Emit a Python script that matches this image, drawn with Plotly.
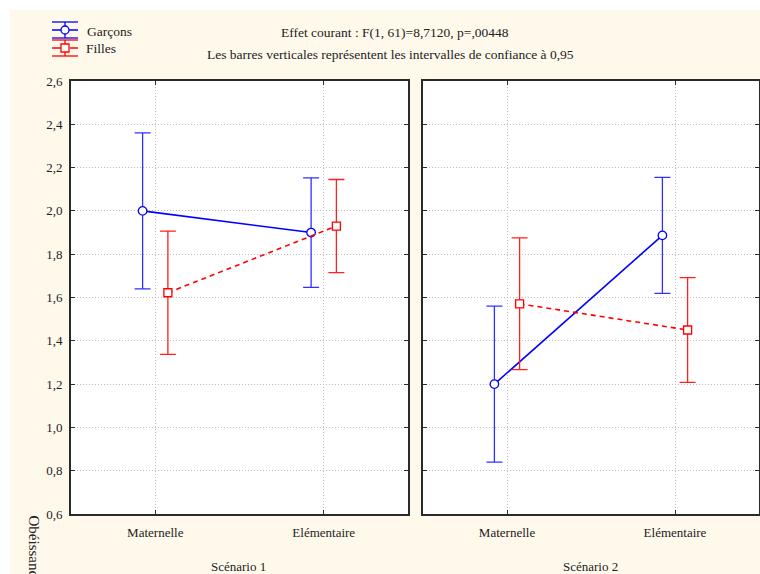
import plotly.graph_objects as go

# ---------------- data ----------------
categories = ["Maternelle", "Elémentaire"]
scenarios = ["Scénario 1", "Scénario 2"]
series_names = ["Garçons", "Filles"]

garcons_s1 = [2.000, 1.900]
garcons_s1_ci = [0.360, 0.253]
filles_s1 = [1.622, 1.930]
filles_s1_ci = [0.285, 0.215]

garcons_s2 = [1.200, 1.887]
garcons_s2_ci = [0.360, 0.268]
filles_s2 = [1.571, 1.450]
filles_s2_ci = [0.304, 0.242]

y_ticks = [0.6, 0.8, 1.0, 1.2, 1.4, 1.6, 1.8, 2.0, 2.2, 2.4, 2.6]
y_ticktext = ["0,6", "0,8", "1,0", "1,2", "1,4", "1,6", "1,8", "2,0", "2,2", "2,4", "2,6"]

title_line1 = "Effet courant : F(1, 61)=8,7120, p=,00448"
title_line2 = "Les barres verticales représentent les intervalles de confiance à 0,95"
y_title = "Obéissance"

# ---------------- style ----------------
W, H = 760, 574
FONT = "Liberation Serif"
BLUE = "#0000FF"
RED = "#FF0000"
CREAM = "#FFF9EC"
OFFSET = 0.075


def px(x):
    return x / W


def py(y):
    return 1 - y / H


fig = go.Figure()

panels = [
    ("x", "y", garcons_s1, garcons_s1_ci, filles_s1, filles_s1_ci),
    ("x2", "y2", garcons_s2, garcons_s2_ci, filles_s2, filles_s2_ci),
]
xidx = list(range(len(categories)))
for xa, ya, g, gci, f, fci in panels:
    fig.add_trace(go.Scatter(
        x=[i - OFFSET for i in xidx], y=g, xaxis=xa, yaxis=ya,
        mode="lines+markers", name=series_names[0], showlegend=False,
        line=dict(color=BLUE, width=1.6),
        marker=dict(symbol="circle", size=8.5, color="white", line=dict(color=BLUE, width=1.3)),
        error_y=dict(type="data", array=gci, color="#3030FF", thickness=1.3, width=8),
    ))
    fig.add_trace(go.Scatter(
        x=[i + OFFSET for i in xidx], y=f, xaxis=xa, yaxis=ya,
        mode="lines+markers", name=series_names[1], showlegend=False,
        line=dict(color=RED, width=1.6, dash="5px,4px"),
        marker=dict(symbol="square", size=8, color="white", line=dict(color=RED, width=1.3)),
        error_y=dict(type="data", array=fci, color="#FF2020", thickness=1.3, width=8),
    ))

xaxis_common = dict(
    range=[-0.5, 1.5], tickvals=xidx, ticktext=categories,
    showgrid=True, gridcolor="#BDBDBD", griddash="1px,2px", gridwidth=1,
    showline=True, linecolor="#2A2A2A", linewidth=1.6, mirror="ticks",
    ticks="inside", ticklen=4, tickcolor="#2A2A2A",
    tickfont=dict(family=FONT, size=13, color="#222"),
    ticklabelstandoff=6, zeroline=False, fixedrange=True, automargin=False,
)
yaxis_common = dict(
    range=[0.6, 2.6], tickvals=y_ticks, ticktext=y_ticktext,
    showgrid=True, gridcolor="#BDBDBD", griddash="1px,2px", gridwidth=1,
    showline=True, linecolor="#2A2A2A", linewidth=1.6, mirror="ticks",
    ticks="inside", ticklen=4, tickcolor="#2A2A2A",
    tickfont=dict(family=FONT, size=13, color="#222"),
    ticklabelstandoff=4, zeroline=False, fixedrange=True, automargin=False,
    domain=[py(514), py(81)],
)

fig.update_layout(
    template="none",
    width=W, height=H, autosize=False,
    margin=dict(l=0, r=0, t=0, b=0, pad=0, autoexpand=False),
    paper_bgcolor=CREAM, plot_bgcolor="white",
    showlegend=False,
    font=dict(family=FONT, size=13, color="#222"),
    xaxis=dict(xaxis_common, domain=[px(71), px(408)], anchor="y"),
    xaxis2=dict(xaxis_common, domain=[px(423), px(759)], anchor="y2"),
    yaxis=dict(yaxis_common, anchor="x"),
    yaxis2=dict(yaxis_common, anchor="x2", showticklabels=False),
)

shapes = [
    # thin white outer bands (top and left)
    dict(type="rect", xref="paper", yref="paper", x0=0, x1=1, y0=py(10), y1=1,
         fillcolor="white", line=dict(width=0), layer="below"),
    dict(type="rect", xref="paper", yref="paper", x0=0, x1=px(10), y0=0, y1=1,
         fillcolor="white", line=dict(width=0), layer="below"),
]


# custom legend glyphs
def glyph(cy, color, dash, symbol):
    out = []
    lx0, lx1, cx = 52, 78, 65
    out.append(dict(type="line", xref="paper", yref="paper", x0=px(lx0), x1=px(lx1), y0=py(cy), y1=py(cy),
                    line=dict(color=color, width=1.5, dash=dash)))
    for yy in (cy - 8, cy + 8):
        out.append(dict(type="line", xref="paper", yref="paper", x0=px(lx0), x1=px(lx1), y0=py(yy), y1=py(yy),
                        line=dict(color=color, width=1.3)))
    out.append(dict(type="line", xref="paper", yref="paper", x0=px(cx), x1=px(cx), y0=py(cy - 8), y1=py(cy + 8),
                    line=dict(color=color, width=1.3)))
    out.append(dict(type=symbol, xref="paper", yref="paper", x0=px(cx - 4), x1=px(cx + 4),
                    y0=py(cy + 4), y1=py(cy - 4), fillcolor="white", line=dict(color=color, width=1.3)))
    return out


shapes += glyph(30, BLUE, "solid", "circle")
shapes += glyph(48, RED, "dash", "rect")
fig.update_layout(shapes=shapes)

ann = []


def text(x, y, s, size=13, xanchor="center", yanchor="middle", angle=0):
    ann.append(dict(x=px(x), y=py(y), xref="paper", yref="paper", text=s, showarrow=False,
                    xanchor=xanchor, yanchor=yanchor, textangle=angle,
                    font=dict(family=FONT, size=size, color="#222")))


text(85, 31, series_names[0], size=13.5, xanchor="left")
text(84, 49, series_names[1], size=13.5, xanchor="left")
text(395, 33, title_line1, size=13.5)
text(390, 55, title_line2, size=13.5)
text(239, 566, scenarios[0])
text(590, 566, scenarios[1])
text(34, 513, y_title, size=15, yanchor="top", angle=90)
fig.update_layout(annotations=ann)

fig.write_html(
    "out.html",
    config={"displayModeBar": False},
    post_script="document.body.style.margin='0';document.body.style.overflow='hidden';",
)
